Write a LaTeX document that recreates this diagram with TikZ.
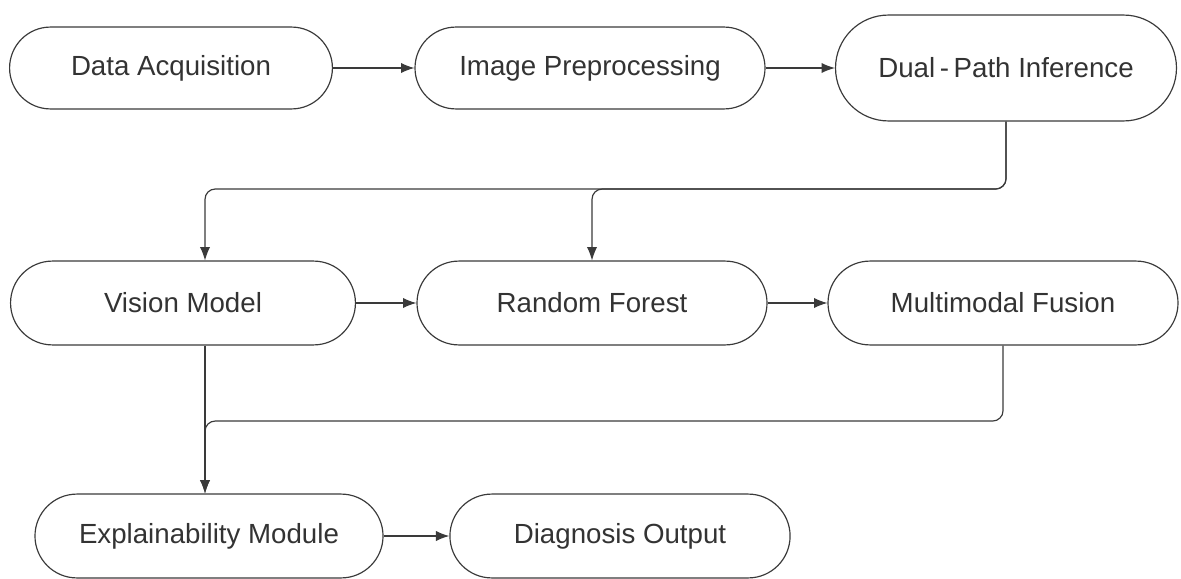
\documentclass[tikz,border=0pt]{standalone}
\usepackage{fontspec}
\setmainfont{Liberation Sans}
\usetikzlibrary{arrows.meta, positioning, calc, shapes.misc}
\definecolor{flowline}{HTML}{3A3A3A}
\definecolor{flowtext}{HTML}{333333}

\begin{document}
\begin{tikzpicture}[x=0.254mm, y=-0.254mm, >={Latex[length=3.4mm, width=2.6mm]},
    stage/.style={rounded rectangle, draw=flowline, line width=0.85pt,
      inner sep=0pt, minimum height=21.3mm, text=flowtext,
      font=\fontsize{20}{24}\selectfont},
    flow/.style={->, draw=flowline, line width=0.85pt, rounded corners=2.6mm}]
      \useasboundingbox (0,0) rectangle (1181,579);

      % first row
      \node[stage, minimum width=82mm, minimum height=20.8mm] (acq) at (171,68)
        {Data Acquisition};
      \node[stage, minimum width=88.9mm, minimum height=20.8mm] (prep) at (590,68)
        {Image Preprocessing};
      \node[stage, minimum width=86.6mm, minimum height=26.9mm] (dual) at (1006,68)
        {Dual\,-\,Path Inference};

      % second row
      \node[stage, minimum width=87.6mm] (vision) at (183,303) {Vision Model};
      \node[stage, minimum width=88.9mm] (forest) at (592,303) {Random Forest};
      \node[stage, minimum width=88.9mm] (fusion) at (1003,303) {Multimodal Fusion};

      % third row
      \node[stage, minimum width=88.4mm] (explain) at (209,536)
        {Explainability Module};
      \node[stage, minimum width=86.4mm] (diag) at (620,536) {Diagnosis Output};

      \coordinate (busA) at (205,189);
      \coordinate (busB) at (205,421);

      \draw[flow] (acq.east) -- (prep.west);
      \draw[flow] (prep.east) -- (dual.west);

      \draw[flow] (dual.south) |- (busA) -- (busA |- vision.north);
      \draw[flow] (dual.south) |- (forest.north |- busA) -- (forest.north);

      \draw[flow] (vision.east) -- (forest.west);
      \draw[flow] (forest.east) -- (fusion.west);

      \draw[flow] (busA |- vision.south) -- (busA |- explain.north);
      \draw[flow] (fusion.south) |- (busB) -- (busA |- explain.north);

      \draw[flow] (explain.east) -- (diag.west);
    \end{tikzpicture}
\end{document}
